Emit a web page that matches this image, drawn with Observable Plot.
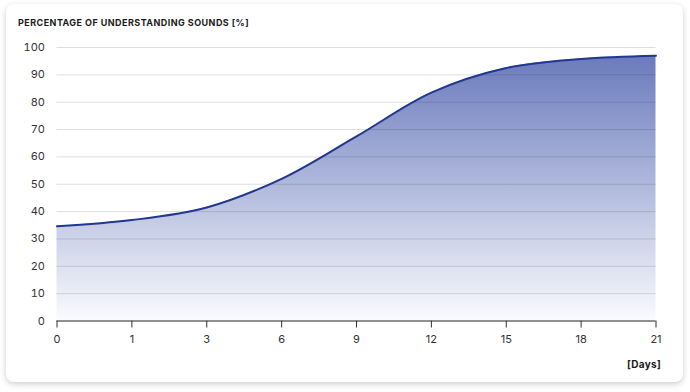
<!DOCTYPE html>
<html>
<head>
<meta charset="utf-8">
<script src="https://cdn.jsdelivr.net/npm/d3@7"></script>
<script src="https://cdn.jsdelivr.net/npm/@observablehq/plot@0.6"></script>
<style>
  html, body { margin: 0; padding: 0; background: #ffffff; width: 690px; height: 392px; overflow: hidden; }
  body { position: relative; font-family: Inter, "Open Sans", sans-serif; }
  #card { position: absolute; left: 6px; top: 4px; width: 677px; height: 378px; background: #fff; border-radius: 8px; box-shadow: 0 2px 6px rgba(0,0,0,0.2); }
  #title { position: absolute; left: 18px; top: 17px; font-size: 9px; font-weight: 700; color: #1a1a1a; letter-spacing: 0.45px; white-space: nowrap; }
  #xlabel { position: absolute; right: 29px; top: 358px; font-size: 10px; font-weight: 700; color: #1a1a1a; letter-spacing: 0.3px; }
  #chart { position: absolute; left: 0; top: 0; width: 690px; height: 392px; }
  #chart svg { display: block; max-width: none !important; width: 690px; height: 392px; }
</style>
</head>
<body>
<div id="card"></div>
<div id="title">PERCENTAGE OF UNDERSTANDING SOUNDS [%]</div>
<div id="chart"></div>
<div id="xlabel">[Days]</div>
<script>
const days = ["0", "1", "3", "6", "9", "12", "15", "18", "21"];
const understanding = [34.6, 36.9, 41.5, 52, 67.5, 83.5, 92.5, 95.8, 97];
const yTicks = [0, 10, 20, 30, 40, 50, 60, 70, 80, 90, 100];
const gridTicks = [10, 20, 30, 40, 50, 60, 70, 80, 90, 100];

const data = days.map((d, i) => ({day: d, value: understanding[i]}));

const chart = Plot.plot({
  width: 690,
  height: 392,
  marginTop: 47,
  marginBottom: 71.5,
  marginLeft: 56.5,
  marginRight: 34.5,
  style: {background: "transparent", fontFamily: "Inter, 'Open Sans', sans-serif", fontSize: "11px", color: "#333"},
  x: {type: "point", domain: days, padding: 0, round: false, range: [56.5, 655.5], label: null, tickSize: 7, tickPadding: 7},
  y: {domain: [0, 100], ticks: yTicks, label: null, tickSize: 0, tickPadding: 12},
  marks: [
    Plot.areaY(data, {x: "day", y: "value", curve: "catmull-rom", fill: "url(#areaGrad)"}),
    Plot.ruleY(gridTicks, {stroke: "#000", strokeOpacity: 0.13}),
    Plot.lineY(data, {x: "day", y: "value", curve: "catmull-rom", stroke: "#22378f", strokeWidth: 2}),
    Plot.ruleY([0], {stroke: "#222", strokeWidth: 1})
  ]
});

const svg = d3.select(chart);
const defs = svg.insert("defs", ":first-child");
const grad = defs.append("linearGradient")
  .attr("id", "areaGrad")
  .attr("gradientUnits", "userSpaceOnUse")
  .attr("x1", 0).attr("x2", 0)
  .attr("y1", 47).attr("y2", 320.5);
grad.append("stop").attr("offset", "0%").attr("stop-color", "#6576ba");
grad.append("stop").attr("offset", "100%").attr("stop-color", "#fafbfd");

document.getElementById("chart").appendChild(chart);
</script>
</body>
</html>
